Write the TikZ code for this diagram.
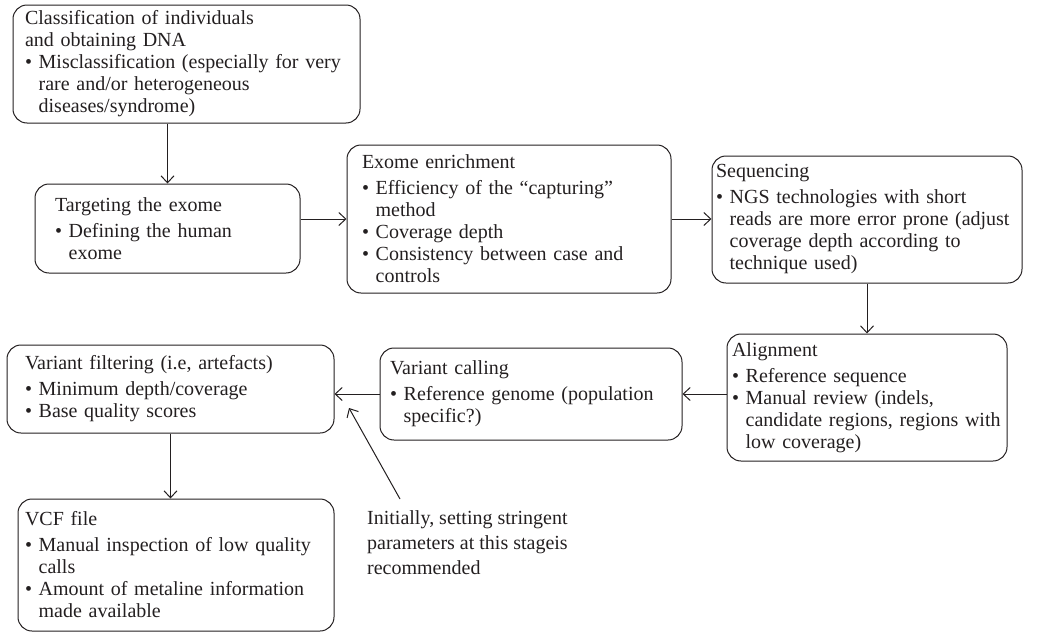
\documentclass[tikz,border=0pt]{standalone}
\usepackage{fontspec}
\setmainfont{Liberation Serif}
\usetikzlibrary{arrows.meta}
\definecolor{dark_ink}{RGB}{35,31,32}
\newcommand{\itemdot}{\textbullet\ }
\newcommand{\itemgap}{\hphantom{\textbullet\ }}

\begin{document}
\begin{tikzpicture}[x=1pt,y=-1pt,color=dark_ink,
	stage/.style={draw=dark_ink,line width=1pt,rounded corners=14pt,align=left,inner sep=0pt,font=\fontsize{20}{22}\selectfont},
	flow/.style={line width=1pt,-{Straight Barb[length=7pt,width=13pt]}}]
	\useasboundingbox (0,0) rectangle (1037,632);
	\node[stage,minimum width=347pt,minimum height=118pt,text width=323pt] (cls) at (186.5,64) {Classification of individuals\\and obtaining DNA\\\itemdot Misclassification (especially for very\\\itemgap rare and/or heterogeneous\\\itemgap diseases/syndrome)};
	\node[stage,minimum width=265pt,minimum height=89pt,text width=225pt] (target) at (167.5,228.5) {Targeting the exome\\[4pt]\itemdot Defining the human\\\itemgap exome};
	\node[stage,minimum width=324pt,minimum height=148pt,text width=294pt] (exome) at (509,219) {Exome enrichment\\[4pt]\itemdot Efficiency of the ``capturing''\\\itemgap method\\\itemdot Coverage depth\\\itemdot Consistency between case and\\\itemgap controls};
	\node[stage,minimum width=310pt,minimum height=127pt,text width=302pt] (seq) at (867,219.5) {Sequencing\\[4pt]\itemdot NGS technologies with short\\\itemgap reads are more error prone (adjust\\\itemgap coverage depth according to\\\itemgap technique used)};
	\node[stage,minimum width=280pt,minimum height=127pt,text width=270pt] (aln) at (867,397.5) {Alignment\\[4pt]\itemdot Reference sequence\\\itemdot Manual review (indels,\\\itemgap candidate regions, regions with\\\itemgap low coverage)};
	\node[stage,minimum width=302pt,minimum height=92pt,text width=282pt] (call) at (531,394) {Variant calling\\[4pt]\itemdot Reference genome (population\\\itemgap specific?)};
	\node[stage,minimum width=327pt,minimum height=88pt,text width=291pt] (filt) at (170.5,389) {Variant filtering (i.e, artefacts)\\[4pt]\itemdot Minimum depth/coverage\\\itemdot Base quality scores};
	\node[stage,minimum width=316pt,minimum height=132pt,text width=302pt] (vcf) at (176,565) {VCF file\\[4pt]\itemdot Manual inspection of low quality\\\itemgap calls\\\itemdot Amount of metaline information\\\itemgap made available};
	\node[anchor=north west,align=left,inner sep=0pt,font=\fontsize{20}{25}\selectfont] (note) at (367,510) {Initially, setting stringent\\parameters at this stageis\\recommended};
	\coordinate (tip) at (349,408);

	\foreach \x/\y in {cls.south -| target/target, exome -| target.east/exome, exome.east/exome.east -| seq.west, seq/aln, call -| aln.west/call, call.west/call.west -| filt.east, filt.south/filt.south |- vcf.north}
		\draw[flow] (\x) -- (\y);
	\draw[flow] ([shift={(33,-11)}]note.north west) -- (tip);
\end{tikzpicture}
\end{document}
